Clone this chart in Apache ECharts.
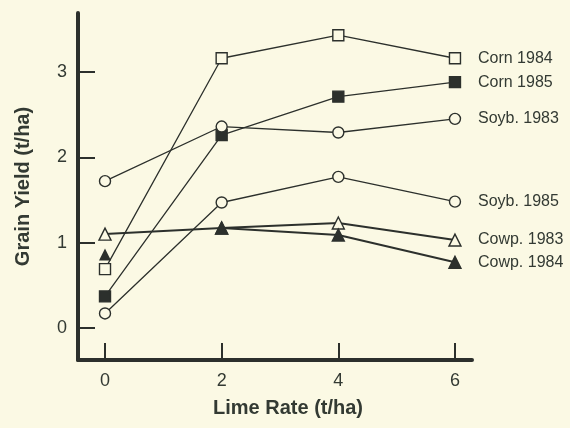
<!DOCTYPE html>
<html>
<head>
<meta charset="utf-8">
<script src="https://cdn.jsdelivr.net/npm/echarts@6/dist/echarts.min.js"></script>
<style>
html,body{margin:0;padding:0;background:#fbf9e4;}
#chart{width:570px;height:428px;}
</style>
</head>
<body>
<div id="chart"></div>
<script>
var limeRates = [0, 2, 4, 6];
var xTicks = [0, 2, 4, 6];
var yTicks = [0, 1, 2, 3];
var corn1984 = [0.69, 3.16, 3.43, 3.16];
var corn1985 = [0.37, 2.26, 2.71, 2.88];
var soyb1983 = [1.72, 2.36, 2.29, 2.45];
var soyb1985 = [0.17, 1.47, 1.77, 1.48];
var cowp1983 = [1.10, 1.17, 1.23, 1.03];
var cowp1984 = [0.86, 1.17, 1.09, 0.77];

var INK = '#2c302c';
var TXT = '#333a33';
var BG = '#fbf9e4';

function pairs(vals, from) {
  var out = [];
  for (var i = from || 0; i < vals.length; i++) out.push([limeRates[i], vals[i]]);
  return out;
}

function mk(name, vals, symbol, filled, lw, from) {
  return {
    name: name,
    type: 'line',
    data: pairs(vals, from),
    symbol: symbol,
    symbolSize: symbol === 'triangle' ? 12 : 11,
    showAllSymbol: true,
    lineStyle: {color: INK, width: lw},
    itemStyle: {color: filled ? INK : BG, borderColor: INK, borderWidth: 1.4, opacity: 1},
    z: 3,
    endLabel: {
      show: true,
      formatter: name,
      distance: 23,
      color: TXT,
      fontFamily: 'Liberation Sans',
      fontSize: 16
    },
    animation: false
  };
}

var series = [
  mk('Corn 1984', corn1984, 'rect', false, 1.3),
  mk('Corn 1985', corn1985, 'rect', true, 1.3),
  mk('Soyb. 1983', soyb1983, 'circle', false, 1.3),
  mk('Soyb. 1985', soyb1985, 'circle', false, 1.3),
  mk('Cowp. 1983', cowp1983, 'triangle', false, 2),
  mk('Cowp. 1984', cowp1984, 'triangle', true, 2, 1),
  {
    name: 'Cowp. 1984 (0)',
    type: 'scatter',
    data: pairs(cowp1984).slice(0, 1),
    symbol: 'triangle',
    symbolSize: 12,
    itemStyle: {color: INK, opacity: 1},
    z: 4,
    animation: false
  }
];

var chart = echarts.init(document.getElementById('chart'), null, {renderer: 'canvas'});
chart.setOption({
  backgroundColor: BG,
  animation: false,
  grid: {left: 78, right: 98, top: 13, bottom: 68},
  xAxis: {
    type: 'value',
    min: -0.463,
    max: 6.292,
    name: 'Lime Rate (t/ha)',
    nameLocation: 'middle',
    nameGap: 38,
    nameTextStyle: {color: TXT, fontFamily: 'Liberation Sans', fontWeight: 'bold', fontSize: 20, padding: [0, 0, 0, 26]},
    axisLine: {show: true, onZero: false, lineStyle: {color: INK, width: 4}},
    axisTick: {show: true, inside: true, length: 17, lineStyle: {color: INK, width: 2}, customValues: xTicks},
    axisLabel: {color: TXT, fontFamily: 'Liberation Sans', fontSize: 18, margin: 12, customValues: xTicks},
    splitLine: {show: false}
  },
  yAxis: {
    type: 'value',
    min: -0.375,
    max: 3.69,
    name: 'Grain Yield (t/ha)',
    nameLocation: 'middle',
    nameGap: 45,
    nameTextStyle: {color: TXT, fontFamily: 'Liberation Sans', fontWeight: 'bold', fontSize: 20},
    axisLine: {show: true, onZero: false, lineStyle: {color: INK, width: 4}},
    axisTick: {show: true, inside: true, length: 17, lineStyle: {color: INK, width: 2}, customValues: yTicks},
    axisLabel: {color: TXT, fontFamily: 'Liberation Sans', fontSize: 18, margin: 11, customValues: yTicks},
    splitLine: {show: false}
  },
  series: series
});
</script>
</body>
</html>
